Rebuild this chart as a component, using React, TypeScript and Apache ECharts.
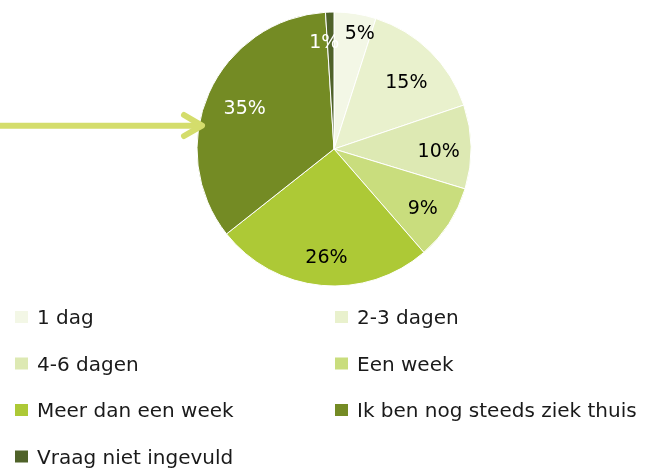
import React, { useEffect, useRef } from "react";
import * as echarts from "echarts";

const categories = [
  "1 dag",
  "2-3 dagen",
  "4-6 dagen",
  "Een week",
  "Meer dan een week",
  "Ik ben nog steeds ziek thuis",
  "Vraag niet ingevuld",
];
const percentages = [5, 15, 10, 9, 26, 35, 1];

const leftLegend = ["1 dag", "4-6 dagen", "Meer dan een week", "Vraag niet ingevuld"];
const rightLegend = ["2-3 dagen", "Een week", "Ik ben nog steeds ziek thuis"];

const sliceColors = ["#f3f7e6", "#e9f1cd", "#dde9b3", "#c9dd7d", "#adc936", "#748b24", "#4f6229"];
const labelColors = ["#000", "#000", "#000", "#000", "#000", "#fff", "#fff"];
const labelRadiusFactor = [0.876, 0.726, 0.764, 0.772, 0.786, 0.721, 0.788];
const labelAngleShift = [3.5, 2.1, 1.3, 0, -1.3, 1.2, -3.4];

const FONT = "DejaVu Sans";

export default function App() {
  const ref = useRef<HTMLDivElement>(null);
  useEffect(() => {
    const chart = echarts.init(ref.current!, null, { renderer: "svg" });
    const cx = 334;
    const cy = 149;
    const R = 137;
    const total = percentages.reduce((a, b) => a + b, 0);
    const mids: number[] = [];
    let acc = 0;
    percentages.forEach((v) => {
      mids.push(((acc + v / 2) / total) * 360);
      acc += v;
    });
    const legendCommon = {
      orient: "vertical",
      icon: "rect",
      itemWidth: 15,
      itemHeight: 14,
      itemGap: 26.5,
      height: 200,
      padding: 0,
      selectedMode: false,
      textStyle: {
        fontFamily: FONT,
        fontSize: 20,
        color: "#1a1a1a",
        padding: [0, 0, 0, 3],
      },
    };
    chart.setOption({
      animation: false,
      legend: [
        { ...legendCommon, data: leftLegend, left: 13, top: 307 },
        { ...legendCommon, data: rightLegend, left: 333, top: 307 },
      ],
      series: [
        {
          type: "pie",
          center: [cx, cy],
          radius: R,
          startAngle: 90,
          clockwise: true,
          silent: true,
          itemStyle: { borderColor: "#ffffff", borderWidth: 1 },
          label: {
            show: true,
            position: "inside",
            formatter: "{c}%",
            fontFamily: FONT,
            fontSize: 19,
          },
          labelLine: { show: false },
          labelLayout: (params: any) => {
            const i = params.dataIndex;
            const a = ((mids[i] + labelAngleShift[i]) * Math.PI) / 180;
            const r = R * labelRadiusFactor[i];
            return {
              x: cx + r * Math.sin(a),
              y: cy - r * Math.cos(a),
              align: "center",
              verticalAlign: "middle",
              hideOverlap: false,
            };
          },
          data: categories.map((name, i) => ({
            name,
            value: percentages[i],
            itemStyle: { color: sliceColors[i] },
            label: { color: labelColors[i] },
          })),
        },
      ],
      graphic: [
        {
          type: "line",
          z: 100,
          shape: { x1: 0, y1: 125.7, x2: 200, y2: 125.7 },
          style: { stroke: "#d4dd6c", lineWidth: 6 },
        },
        {
          type: "polyline",
          z: 100,
          shape: { points: [[184, 115], [202, 125.7], [184, 136]] },
          style: { stroke: "#d4dd6c", fill: "none", lineWidth: 6, lineCap: "round", lineJoin: "round" },
        },
      ],
    });
    return () => chart.dispose();
  }, []);
  return (
    <div
      ref={ref}
      style={{ position: "fixed", left: 0, top: 0, width: 646, height: 469 }}
    />
  );
}
